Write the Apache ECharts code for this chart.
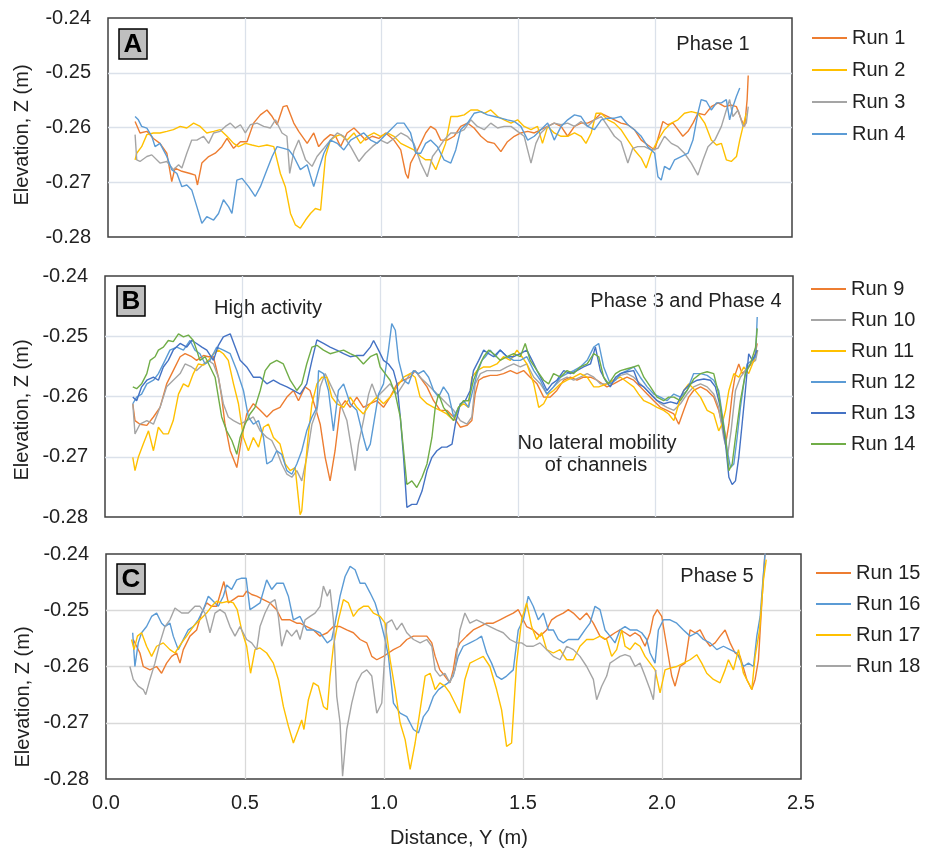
<!DOCTYPE html>
<html>
<head>
<meta charset="utf-8">
<script src="https://cdn.jsdelivr.net/npm/echarts@6/dist/echarts.min.js"></script>
<style>
html,body{margin:0;padding:0;background:#fff}
#chart{width:926px;height:854px}
</style>
</head>
<body>
<div id="chart"></div>
<script>
// axes
var xMin = 0, xMax = 2.5, xStep = 0.5;
var yMin = -0.28, yMax = -0.24, yStep = 0.01;
var xTickDigits = 1, yTickDigits = 2;

// panel A - phase 1  [distance Y (m), elevation Z (m)]
var runNamesA = ['Run 1', 'Run 2', 'Run 3', 'Run 4'];
var run1 = [[0.099,-0.2589],[0.117,-0.2610],[0.142,-0.2607],[0.166,-0.2620],[0.190,-0.2629],[0.215,-0.2647],[0.233,-0.2699],[0.245,-0.2674],[0.270,-0.2680],[0.300,-0.2684],[0.319,-0.2687],[0.327,-0.2705],[0.343,-0.2665],[0.368,-0.2653],[0.392,-0.2647],[0.416,-0.2635],[0.435,-0.2620],[0.459,-0.2638],[0.484,-0.2626],[0.508,-0.2626],[0.532,-0.2592],[0.557,-0.2577],[0.581,-0.2568],[0.600,-0.2580],[0.618,-0.2595],[0.640,-0.2562],[0.654,-0.2560],[0.679,-0.2592],[0.697,-0.2607],[0.728,-0.2629],[0.752,-0.2610],[0.770,-0.2635],[0.789,-0.2623],[0.813,-0.2613],[0.832,-0.2616],[0.850,-0.2635],[0.874,-0.2610],[0.899,-0.2601],[0.917,-0.2610],[0.941,-0.2623],[0.966,-0.2616],[0.990,-0.2620],[1.015,-0.2610],[1.045,-0.2623],[1.070,-0.2641],[1.088,-0.2684],[1.097,-0.2693],[1.106,-0.2665],[1.125,-0.2647],[1.143,-0.2629],[1.161,-0.2610],[1.179,-0.2598],[1.198,-0.2604],[1.216,-0.2623],[1.240,-0.2623],[1.265,-0.2616],[1.289,-0.2598],[1.314,-0.2592],[1.338,-0.2601],[1.363,-0.2616],[1.387,-0.2626],[1.412,-0.2629],[1.436,-0.2644],[1.460,-0.2626],[1.485,-0.2616],[1.509,-0.2610],[1.534,-0.2607],[1.558,-0.2610],[1.582,-0.2604],[1.607,-0.2598],[1.631,-0.2592],[1.656,-0.2598],[1.680,-0.2616],[1.705,-0.2598],[1.729,-0.2592],[1.753,-0.2592],[1.778,-0.2586],[1.802,-0.2574],[1.827,-0.2580],[1.851,-0.2586],[1.875,-0.2592],[1.900,-0.2595],[1.924,-0.2604],[1.949,-0.2623],[1.973,-0.2632],[1.998,-0.2641],[2.016,-0.2610],[2.028,-0.2589],[2.046,-0.2595],[2.065,-0.2592],[2.083,-0.2604],[2.101,-0.2616],[2.120,-0.2607],[2.138,-0.2592],[2.156,-0.2574],[2.181,-0.2577],[2.205,-0.2562],[2.230,-0.2555],[2.254,-0.2562],[2.278,-0.2559],[2.297,-0.2562],[2.315,-0.2586],[2.327,-0.2598],[2.336,-0.2549],[2.340,-0.2505]];
var run2 = [[0.099,-0.2659],[0.105,-0.2647],[0.123,-0.2635],[0.142,-0.2613],[0.166,-0.2610],[0.190,-0.2610],[0.215,-0.2607],[0.239,-0.2604],[0.264,-0.2598],[0.288,-0.2601],[0.313,-0.2592],[0.337,-0.2598],[0.361,-0.2610],[0.386,-0.2607],[0.410,-0.2604],[0.435,-0.2616],[0.459,-0.2629],[0.477,-0.2635],[0.502,-0.2629],[0.526,-0.2632],[0.551,-0.2635],[0.581,-0.2632],[0.606,-0.2635],[0.630,-0.2684],[0.648,-0.2708],[0.667,-0.2757],[0.685,-0.2778],[0.703,-0.2784],[0.722,-0.2769],[0.740,-0.2757],[0.758,-0.2748],[0.777,-0.2751],[0.795,-0.2653],[0.813,-0.2623],[0.832,-0.2616],[0.850,-0.2613],[0.874,-0.2623],[0.899,-0.2610],[0.923,-0.2629],[0.948,-0.2616],[0.972,-0.2610],[0.996,-0.2616],[1.021,-0.2610],[1.045,-0.2616],[1.070,-0.2629],[1.094,-0.2635],[1.118,-0.2641],[1.143,-0.2653],[1.161,-0.2659],[1.179,-0.2659],[1.198,-0.2677],[1.216,-0.2653],[1.234,-0.2629],[1.253,-0.2580],[1.277,-0.2580],[1.302,-0.2577],[1.326,-0.2568],[1.350,-0.2568],[1.375,-0.2574],[1.399,-0.2568],[1.424,-0.2580],[1.448,-0.2586],[1.473,-0.2592],[1.497,-0.2586],[1.521,-0.2598],[1.546,-0.2604],[1.570,-0.2598],[1.588,-0.2629],[1.607,-0.2598],[1.631,-0.2610],[1.656,-0.2616],[1.680,-0.2616],[1.705,-0.2610],[1.729,-0.2616],[1.747,-0.2629],[1.766,-0.2610],[1.784,-0.2574],[1.802,-0.2574],[1.827,-0.2586],[1.851,-0.2592],[1.875,-0.2604],[1.900,-0.2623],[1.924,-0.2641],[1.949,-0.2656],[1.967,-0.2674],[1.985,-0.2647],[2.010,-0.2623],[2.034,-0.2604],[2.059,-0.2592],[2.083,-0.2586],[2.107,-0.2574],[2.132,-0.2571],[2.156,-0.2574],[2.181,-0.2592],[2.205,-0.2623],[2.224,-0.2632],[2.242,-0.2629],[2.260,-0.2659],[2.278,-0.2662],[2.297,-0.2653],[2.309,-0.2623],[2.321,-0.2598],[2.333,-0.2574]];
var run3 = [[0.099,-0.2613],[0.105,-0.2659],[0.117,-0.2662],[0.142,-0.2653],[0.160,-0.2650],[0.190,-0.2665],[0.215,-0.2662],[0.239,-0.2677],[0.258,-0.2668],[0.270,-0.2674],[0.288,-0.2647],[0.306,-0.2623],[0.325,-0.2623],[0.349,-0.2616],[0.368,-0.2629],[0.386,-0.2610],[0.410,-0.2607],[0.429,-0.2598],[0.447,-0.2592],[0.465,-0.2601],[0.484,-0.2595],[0.502,-0.2610],[0.520,-0.2595],[0.545,-0.2592],[0.569,-0.2598],[0.593,-0.2601],[0.612,-0.2586],[0.636,-0.2610],[0.654,-0.2616],[0.664,-0.2684],[0.679,-0.2644],[0.697,-0.2623],[0.722,-0.2659],[0.746,-0.2671],[0.764,-0.2653],[0.789,-0.2638],[0.813,-0.2623],[0.838,-0.2610],[0.862,-0.2616],[0.887,-0.2635],[0.917,-0.2662],[0.941,-0.2647],[0.966,-0.2635],[0.996,-0.2623],[1.021,-0.2629],[1.045,-0.2620],[1.070,-0.2610],[1.094,-0.2616],[1.118,-0.2629],[1.143,-0.2665],[1.167,-0.2690],[1.186,-0.2653],[1.204,-0.2641],[1.228,-0.2623],[1.253,-0.2610],[1.277,-0.2610],[1.302,-0.2604],[1.326,-0.2586],[1.350,-0.2598],[1.375,-0.2604],[1.399,-0.2592],[1.424,-0.2601],[1.448,-0.2598],[1.473,-0.2598],[1.497,-0.2607],[1.521,-0.2616],[1.546,-0.2665],[1.564,-0.2629],[1.582,-0.2610],[1.607,-0.2598],[1.631,-0.2592],[1.656,-0.2595],[1.680,-0.2592],[1.705,-0.2598],[1.729,-0.2589],[1.753,-0.2598],[1.778,-0.2586],[1.803,-0.2580],[1.827,-0.2598],[1.851,-0.2616],[1.875,-0.2626],[1.900,-0.2665],[1.918,-0.2638],[1.936,-0.2635],[1.961,-0.2635],[1.985,-0.2641],[2.010,-0.2638],[2.034,-0.2616],[2.059,-0.2629],[2.083,-0.2635],[2.107,-0.2647],[2.132,-0.2665],[2.156,-0.2687],[2.175,-0.2659],[2.193,-0.2635],[2.218,-0.2623],[2.242,-0.2598],[2.260,-0.2568],[2.272,-0.2549],[2.284,-0.2580],[2.303,-0.2568],[2.321,-0.2598],[2.333,-0.2592],[2.340,-0.2562]];
var run4 = [[0.099,-0.2580],[0.111,-0.2586],[0.123,-0.2598],[0.142,-0.2601],[0.160,-0.2616],[0.172,-0.2635],[0.190,-0.2629],[0.215,-0.2653],[0.233,-0.2677],[0.252,-0.2684],[0.270,-0.2708],[0.288,-0.2705],[0.306,-0.2714],[0.325,-0.2745],[0.343,-0.2775],[0.361,-0.2763],[0.386,-0.2769],[0.404,-0.2757],[0.422,-0.2732],[0.441,-0.2745],[0.453,-0.2757],[0.471,-0.2696],[0.490,-0.2693],[0.514,-0.2708],[0.538,-0.2726],[0.557,-0.2708],[0.581,-0.2677],[0.600,-0.2653],[0.618,-0.2635],[0.642,-0.2638],[0.661,-0.2641],[0.679,-0.2653],[0.703,-0.2677],[0.728,-0.2668],[0.752,-0.2708],[0.770,-0.2677],[0.789,-0.2647],[0.813,-0.2623],[0.838,-0.2629],[0.862,-0.2641],[0.887,-0.2623],[0.911,-0.2616],[0.935,-0.2610],[0.960,-0.2623],[0.984,-0.2629],[1.009,-0.2616],[1.033,-0.2604],[1.057,-0.2592],[1.082,-0.2592],[1.106,-0.2610],[1.125,-0.2647],[1.143,-0.2647],[1.161,-0.2629],[1.179,-0.2623],[1.204,-0.2635],[1.228,-0.2659],[1.253,-0.2665],[1.271,-0.2641],[1.289,-0.2604],[1.314,-0.2592],[1.338,-0.2574],[1.363,-0.2571],[1.387,-0.2577],[1.412,-0.2580],[1.436,-0.2583],[1.460,-0.2586],[1.485,-0.2589],[1.509,-0.2598],[1.534,-0.2623],[1.558,-0.2616],[1.582,-0.2604],[1.607,-0.2592],[1.631,-0.2623],[1.656,-0.2598],[1.680,-0.2586],[1.705,-0.2577],[1.729,-0.2580],[1.753,-0.2598],[1.778,-0.2604],[1.803,-0.2586],[1.827,-0.2583],[1.851,-0.2583],[1.875,-0.2580],[1.900,-0.2595],[1.924,-0.2604],[1.949,-0.2616],[1.973,-0.2635],[1.998,-0.2647],[2.010,-0.2690],[2.022,-0.2696],[2.034,-0.2671],[2.053,-0.2677],[2.071,-0.2659],[2.095,-0.2653],[2.120,-0.2647],[2.138,-0.2623],[2.156,-0.2574],[2.168,-0.2549],[2.187,-0.2552],[2.205,-0.2568],[2.224,-0.2555],[2.242,-0.2555],[2.260,-0.2549],[2.272,-0.2586],[2.284,-0.2562],[2.297,-0.2543],[2.309,-0.2528]];

// panel B - phase 3 and phase 4
var runNamesB = ['Run 9', 'Run 10', 'Run 11', 'Run 12', 'Run 13', 'Run 14'];
var run9 = [[0.101,-0.2612],[0.109,-0.2640],[0.127,-0.2646],[0.152,-0.2648],[0.176,-0.2634],[0.200,-0.2618],[0.224,-0.2579],[0.248,-0.2557],[0.273,-0.2534],[0.291,-0.2529],[0.315,-0.2534],[0.333,-0.2540],[0.358,-0.2532],[0.376,-0.2534],[0.394,-0.2534],[0.412,-0.2568],[0.424,-0.2601],[0.436,-0.2646],[0.455,-0.2690],[0.479,-0.2718],[0.497,-0.2668],[0.515,-0.2629],[0.539,-0.2612],[0.564,-0.2623],[0.588,-0.2634],[0.612,-0.2623],[0.636,-0.2618],[0.661,-0.2601],[0.685,-0.2590],[0.703,-0.2607],[0.727,-0.2584],[0.745,-0.2590],[0.764,-0.2618],[0.782,-0.2646],[0.800,-0.2701],[0.818,-0.2740],[0.836,-0.2690],[0.855,-0.2618],[0.873,-0.2607],[0.891,-0.2618],[0.915,-0.2601],[0.939,-0.2618],[0.964,-0.2612],[0.988,-0.2607],[1.012,-0.2618],[1.036,-0.2601],[1.061,-0.2579],[1.085,-0.2573],[1.109,-0.2568],[1.127,-0.2557],[1.145,-0.2568],[1.170,-0.2584],[1.194,-0.2607],[1.218,-0.2623],[1.242,-0.2623],[1.267,-0.2634],[1.291,-0.2651],[1.315,-0.2648],[1.333,-0.2640],[1.345,-0.2596],[1.358,-0.2573],[1.376,-0.2568],[1.400,-0.2565],[1.424,-0.2565],[1.448,-0.2562],[1.473,-0.2557],[1.497,-0.2562],[1.521,-0.2557],[1.545,-0.2568],[1.570,-0.2579],[1.594,-0.2601],[1.618,-0.2601],[1.642,-0.2590],[1.667,-0.2573],[1.691,-0.2568],[1.715,-0.2573],[1.739,-0.2568],[1.764,-0.2568],[1.788,-0.2573],[1.824,-0.2584],[1.848,-0.2579],[1.873,-0.2573],[1.897,-0.2568],[1.921,-0.2573],[1.945,-0.2584],[1.970,-0.2596],[1.994,-0.2607],[2.018,-0.2618],[2.042,-0.2623],[2.067,-0.2629],[2.085,-0.2646],[2.103,-0.2623],[2.121,-0.2601],[2.139,-0.2590],[2.164,-0.2584],[2.188,-0.2590],[2.212,-0.2601],[2.230,-0.2623],[2.242,-0.2646],[2.255,-0.2679],[2.267,-0.2646],[2.279,-0.2596],[2.291,-0.2562],[2.303,-0.2546],[2.315,-0.2562],[2.327,-0.2557],[2.339,-0.2551],[2.358,-0.2540],[2.370,-0.2512]];
var run10 = [[0.101,-0.2612],[0.109,-0.2662],[0.127,-0.2646],[0.152,-0.2640],[0.176,-0.2646],[0.200,-0.2618],[0.224,-0.2584],[0.248,-0.2573],[0.273,-0.2562],[0.291,-0.2546],[0.315,-0.2551],[0.333,-0.2557],[0.358,-0.2546],[0.376,-0.2540],[0.394,-0.2546],[0.412,-0.2568],[0.430,-0.2612],[0.448,-0.2634],[0.467,-0.2640],[0.491,-0.2646],[0.515,-0.2640],[0.539,-0.2634],[0.564,-0.2657],[0.588,-0.2668],[0.606,-0.2673],[0.624,-0.2690],[0.642,-0.2712],[0.661,-0.2729],[0.679,-0.2734],[0.697,-0.2723],[0.715,-0.2740],[0.733,-0.2701],[0.752,-0.2646],[0.770,-0.2623],[0.782,-0.2584],[0.800,-0.2562],[0.818,-0.2579],[0.836,-0.2596],[0.855,-0.2612],[0.879,-0.2640],[0.897,-0.2690],[0.909,-0.2723],[0.921,-0.2679],[0.939,-0.2640],[0.958,-0.2596],[0.970,-0.2579],[0.988,-0.2601],[1.012,-0.2590],[1.036,-0.2579],[1.061,-0.2596],[1.085,-0.2579],[1.109,-0.2562],[1.127,-0.2557],[1.145,-0.2568],[1.170,-0.2579],[1.194,-0.2590],[1.218,-0.2601],[1.242,-0.2612],[1.267,-0.2623],[1.291,-0.2640],[1.315,-0.2646],[1.333,-0.2634],[1.345,-0.2579],[1.364,-0.2562],[1.388,-0.2557],[1.412,-0.2557],[1.436,-0.2557],[1.461,-0.2551],[1.485,-0.2546],[1.509,-0.2551],[1.533,-0.2546],[1.558,-0.2568],[1.582,-0.2579],[1.606,-0.2596],[1.630,-0.2584],[1.655,-0.2573],[1.679,-0.2568],[1.703,-0.2573],[1.727,-0.2568],[1.752,-0.2562],[1.776,-0.2568],[1.800,-0.2579],[1.824,-0.2579],[1.848,-0.2573],[1.873,-0.2565],[1.897,-0.2562],[1.921,-0.2568],[1.945,-0.2579],[1.970,-0.2590],[1.994,-0.2601],[2.018,-0.2612],[2.042,-0.2618],[2.067,-0.2623],[2.091,-0.2612],[2.115,-0.2596],[2.139,-0.2584],[2.164,-0.2579],[2.188,-0.2584],[2.212,-0.2596],[2.230,-0.2618],[2.248,-0.2668],[2.263,-0.2696],[2.275,-0.2657],[2.291,-0.2590],[2.309,-0.2568],[2.327,-0.2557],[2.345,-0.2546],[2.364,-0.2540],[2.372,-0.2523]];
var run11 = [[0.101,-0.2701],[0.109,-0.2723],[0.121,-0.2701],[0.139,-0.2679],[0.158,-0.2657],[0.176,-0.2690],[0.194,-0.2651],[0.212,-0.2662],[0.230,-0.2662],[0.248,-0.2640],[0.267,-0.2596],[0.285,-0.2579],[0.303,-0.2584],[0.321,-0.2562],[0.339,-0.2546],[0.358,-0.2548],[0.376,-0.2540],[0.394,-0.2529],[0.412,-0.2523],[0.430,-0.2529],[0.448,-0.2540],[0.467,-0.2579],[0.485,-0.2612],[0.503,-0.2668],[0.521,-0.2690],[0.539,-0.2668],[0.558,-0.2684],[0.576,-0.2651],[0.594,-0.2646],[0.612,-0.2668],[0.636,-0.2679],[0.655,-0.2712],[0.673,-0.2723],[0.691,-0.2718],[0.709,-0.2796],[0.715,-0.2790],[0.727,-0.2723],[0.739,-0.2662],[0.752,-0.2612],[0.770,-0.2579],[0.788,-0.2568],[0.806,-0.2568],[0.824,-0.2601],[0.842,-0.2612],[0.867,-0.2618],[0.891,-0.2601],[0.915,-0.2618],[0.939,-0.2629],[0.964,-0.2612],[0.988,-0.2601],[1.012,-0.2612],[1.036,-0.2601],[1.061,-0.2584],[1.085,-0.2568],[1.109,-0.2562],[1.127,-0.2568],[1.145,-0.2601],[1.170,-0.2612],[1.194,-0.2618],[1.218,-0.2623],[1.242,-0.2629],[1.267,-0.2640],[1.285,-0.2618],[1.303,-0.2612],[1.321,-0.2618],[1.333,-0.2568],[1.352,-0.2557],[1.376,-0.2551],[1.400,-0.2551],[1.424,-0.2546],[1.448,-0.2534],[1.473,-0.2540],[1.497,-0.2523],[1.515,-0.2534],[1.533,-0.2546],[1.558,-0.2579],[1.576,-0.2618],[1.594,-0.2612],[1.612,-0.2596],[1.630,-0.2590],[1.655,-0.2579],[1.679,-0.2573],[1.703,-0.2568],[1.727,-0.2562],[1.752,-0.2568],[1.776,-0.2584],[1.794,-0.2584],[1.824,-0.2579],[1.848,-0.2573],[1.873,-0.2568],[1.897,-0.2576],[1.921,-0.2584],[1.939,-0.2596],[1.958,-0.2607],[1.982,-0.2612],[2.006,-0.2618],[2.030,-0.2623],[2.048,-0.2629],[2.067,-0.2640],[2.085,-0.2612],[2.103,-0.2590],[2.121,-0.2579],[2.139,-0.2587],[2.164,-0.2601],[2.188,-0.2623],[2.212,-0.2629],[2.230,-0.2657],[2.242,-0.2646],[2.255,-0.2623],[2.267,-0.2590],[2.285,-0.2562],[2.303,-0.2568],[2.321,-0.2551],[2.339,-0.2562],[2.358,-0.2540],[2.370,-0.2523]];
var run12 = [[0.101,-0.2612],[0.115,-0.2601],[0.133,-0.2596],[0.152,-0.2579],[0.176,-0.2573],[0.194,-0.2562],[0.218,-0.2540],[0.236,-0.2523],[0.261,-0.2518],[0.285,-0.2523],[0.309,-0.2507],[0.327,-0.2523],[0.345,-0.2529],[0.364,-0.2546],[0.382,-0.2540],[0.406,-0.2518],[0.430,-0.2523],[0.455,-0.2529],[0.479,-0.2557],[0.503,-0.2590],[0.521,-0.2634],[0.539,-0.2646],[0.558,-0.2640],[0.576,-0.2668],[0.588,-0.2712],[0.606,-0.2707],[0.624,-0.2690],[0.642,-0.2696],[0.661,-0.2723],[0.679,-0.2729],[0.697,-0.2712],[0.715,-0.2690],[0.733,-0.2657],[0.752,-0.2634],[0.770,-0.2618],[0.776,-0.2557],[0.794,-0.2562],[0.812,-0.2590],[0.830,-0.2657],[0.848,-0.2590],[0.867,-0.2579],[0.891,-0.2612],[0.915,-0.2623],[0.939,-0.2668],[0.952,-0.2690],[0.964,-0.2679],[0.976,-0.2646],[0.994,-0.2596],[1.012,-0.2579],[1.030,-0.2523],[1.042,-0.2479],[1.055,-0.2490],[1.067,-0.2540],[1.085,-0.2573],[1.103,-0.2579],[1.121,-0.2557],[1.139,-0.2562],[1.158,-0.2557],[1.176,-0.2568],[1.194,-0.2590],[1.212,-0.2601],[1.230,-0.2584],[1.248,-0.2596],[1.267,-0.2634],[1.285,-0.2618],[1.303,-0.2607],[1.321,-0.2618],[1.333,-0.2596],[1.352,-0.2562],[1.370,-0.2540],[1.382,-0.2534],[1.400,-0.2523],[1.418,-0.2534],[1.436,-0.2523],[1.461,-0.2534],[1.485,-0.2540],[1.509,-0.2540],[1.533,-0.2534],[1.558,-0.2557],[1.582,-0.2573],[1.606,-0.2596],[1.630,-0.2584],[1.655,-0.2568],[1.679,-0.2562],[1.703,-0.2557],[1.727,-0.2551],[1.752,-0.2540],[1.776,-0.2518],[1.794,-0.2512],[1.812,-0.2551],[1.836,-0.2579],[1.855,-0.2573],[1.873,-0.2562],[1.897,-0.2557],[1.921,-0.2551],[1.945,-0.2568],[1.970,-0.2584],[1.994,-0.2596],[2.018,-0.2601],[2.042,-0.2607],[2.067,-0.2596],[2.091,-0.2601],[2.115,-0.2590],[2.139,-0.2562],[2.164,-0.2562],[2.188,-0.2565],[2.212,-0.2573],[2.230,-0.2590],[2.248,-0.2646],[2.261,-0.2690],[2.273,-0.2718],[2.285,-0.2712],[2.297,-0.2668],[2.309,-0.2618],[2.321,-0.2579],[2.333,-0.2546],[2.352,-0.2540],[2.364,-0.2534],[2.370,-0.2468]];
var run13 = [[0.101,-0.2601],[0.115,-0.2607],[0.133,-0.2584],[0.152,-0.2573],[0.176,-0.2568],[0.194,-0.2573],[0.212,-0.2551],[0.230,-0.2540],[0.248,-0.2523],[0.273,-0.2512],[0.297,-0.2518],[0.315,-0.2507],[0.333,-0.2512],[0.352,-0.2518],[0.370,-0.2523],[0.394,-0.2540],[0.412,-0.2515],[0.430,-0.2501],[0.455,-0.2496],[0.473,-0.2518],[0.491,-0.2540],[0.515,-0.2551],[0.539,-0.2568],[0.564,-0.2568],[0.588,-0.2579],[0.612,-0.2573],[0.636,-0.2579],[0.661,-0.2584],[0.685,-0.2590],[0.709,-0.2596],[0.733,-0.2579],[0.752,-0.2540],[0.770,-0.2506],[0.794,-0.2512],[0.818,-0.2518],[0.842,-0.2523],[0.867,-0.2529],[0.891,-0.2534],[0.915,-0.2532],[0.939,-0.2532],[0.964,-0.2518],[0.976,-0.2507],[0.994,-0.2523],[1.012,-0.2540],[1.030,-0.2546],[1.048,-0.2557],[1.061,-0.2579],[1.073,-0.2634],[1.085,-0.2701],[1.097,-0.2784],[1.115,-0.2779],[1.133,-0.2779],[1.152,-0.2757],[1.170,-0.2723],[1.188,-0.2701],[1.206,-0.2690],[1.224,-0.2684],[1.242,-0.2684],[1.261,-0.2679],[1.273,-0.2646],[1.291,-0.2612],[1.309,-0.2607],[1.327,-0.2590],[1.339,-0.2557],[1.358,-0.2540],[1.376,-0.2523],[1.394,-0.2529],[1.412,-0.2534],[1.436,-0.2523],[1.461,-0.2534],[1.485,-0.2534],[1.509,-0.2529],[1.533,-0.2523],[1.552,-0.2540],[1.570,-0.2557],[1.588,-0.2573],[1.606,-0.2590],[1.624,-0.2579],[1.642,-0.2573],[1.667,-0.2557],[1.691,-0.2562],[1.715,-0.2557],[1.739,-0.2551],[1.764,-0.2546],[1.782,-0.2518],[1.800,-0.2557],[1.818,-0.2573],[1.836,-0.2584],[1.855,-0.2568],[1.873,-0.2562],[1.897,-0.2559],[1.921,-0.2557],[1.939,-0.2579],[1.958,-0.2584],[1.982,-0.2596],[2.006,-0.2607],[2.030,-0.2612],[2.055,-0.2609],[2.079,-0.2612],[2.103,-0.2590],[2.127,-0.2579],[2.152,-0.2573],[2.176,-0.2571],[2.200,-0.2573],[2.218,-0.2584],[2.236,-0.2618],[2.255,-0.2679],[2.267,-0.2734],[2.279,-0.2746],[2.291,-0.2740],[2.303,-0.2701],[2.315,-0.2646],[2.327,-0.2590],[2.339,-0.2529],[2.352,-0.2540],[2.364,-0.2529],[2.370,-0.2523]];
var run14 = [[0.101,-0.2584],[0.115,-0.2587],[0.133,-0.2579],[0.152,-0.2562],[0.164,-0.2540],[0.182,-0.2534],[0.194,-0.2523],[0.212,-0.2518],[0.230,-0.2507],[0.248,-0.2509],[0.267,-0.2496],[0.285,-0.2501],[0.303,-0.2498],[0.321,-0.2507],[0.333,-0.2523],[0.345,-0.2540],[0.364,-0.2534],[0.382,-0.2551],[0.400,-0.2568],[0.412,-0.2601],[0.424,-0.2634],[0.442,-0.2657],[0.461,-0.2673],[0.479,-0.2696],[0.491,-0.2668],[0.509,-0.2646],[0.527,-0.2629],[0.545,-0.2618],[0.564,-0.2590],[0.582,-0.2557],[0.600,-0.2546],[0.624,-0.2540],[0.648,-0.2546],[0.673,-0.2573],[0.697,-0.2590],[0.715,-0.2579],[0.733,-0.2546],[0.752,-0.2518],[0.770,-0.2515],[0.794,-0.2523],[0.818,-0.2529],[0.842,-0.2526],[0.867,-0.2523],[0.891,-0.2529],[0.915,-0.2534],[0.939,-0.2546],[0.964,-0.2534],[0.988,-0.2529],[1.000,-0.2551],[1.018,-0.2562],[1.036,-0.2573],[1.055,-0.2596],[1.073,-0.2634],[1.085,-0.2690],[1.097,-0.2746],[1.115,-0.2740],[1.133,-0.2751],[1.152,-0.2734],[1.170,-0.2712],[1.188,-0.2668],[1.200,-0.2618],[1.212,-0.2596],[1.230,-0.2618],[1.248,-0.2629],[1.267,-0.2640],[1.285,-0.2618],[1.303,-0.2607],[1.321,-0.2607],[1.339,-0.2573],[1.358,-0.2551],[1.376,-0.2534],[1.394,-0.2523],[1.412,-0.2529],[1.436,-0.2540],[1.461,-0.2534],[1.485,-0.2529],[1.509,-0.2534],[1.527,-0.2512],[1.545,-0.2540],[1.570,-0.2557],[1.594,-0.2573],[1.612,-0.2579],[1.630,-0.2562],[1.655,-0.2568],[1.679,-0.2557],[1.703,-0.2562],[1.727,-0.2551],[1.752,-0.2546],[1.776,-0.2529],[1.794,-0.2534],[1.812,-0.2568],[1.830,-0.2579],[1.855,-0.2562],[1.873,-0.2557],[1.897,-0.2554],[1.921,-0.2551],[1.939,-0.2548],[1.958,-0.2568],[1.982,-0.2584],[2.006,-0.2601],[2.030,-0.2607],[2.048,-0.2601],[2.067,-0.2601],[2.091,-0.2607],[2.115,-0.2590],[2.139,-0.2571],[2.164,-0.2562],[2.188,-0.2559],[2.212,-0.2562],[2.230,-0.2596],[2.242,-0.2634],[2.255,-0.2668],[2.267,-0.2723],[2.279,-0.2712],[2.291,-0.2668],[2.309,-0.2607],[2.327,-0.2562],[2.345,-0.2546],[2.364,-0.2518],[2.370,-0.2487]];

// panel C - phase 5
var runNamesC = ['Run 15', 'Run 16', 'Run 17', 'Run 18'];
var run15 = [[0.098,-0.2552],[0.110,-0.2564],[0.122,-0.2576],[0.134,-0.2600],[0.158,-0.2606],[0.182,-0.2600],[0.200,-0.2612],[0.218,-0.2594],[0.236,-0.2582],[0.254,-0.2576],[0.266,-0.2594],[0.278,-0.2570],[0.302,-0.2546],[0.326,-0.2535],[0.344,-0.2505],[0.362,-0.2487],[0.380,-0.2493],[0.398,-0.2493],[0.412,-0.2469],[0.424,-0.2449],[0.440,-0.2487],[0.458,-0.2481],[0.476,-0.2475],[0.494,-0.2475],[0.506,-0.2466],[0.524,-0.2472],[0.542,-0.2475],[0.566,-0.2481],[0.590,-0.2487],[0.614,-0.2499],[0.632,-0.2517],[0.662,-0.2517],[0.686,-0.2523],[0.698,-0.2523],[0.722,-0.2529],[0.746,-0.2535],[0.770,-0.2546],[0.796,-0.2540],[0.818,-0.2529],[0.842,-0.2529],[0.866,-0.2535],[0.890,-0.2540],[0.914,-0.2552],[0.938,-0.2558],[0.956,-0.2582],[0.974,-0.2588],[0.998,-0.2582],[1.016,-0.2576],[1.034,-0.2570],[1.058,-0.2564],[1.082,-0.2552],[1.106,-0.2546],[1.130,-0.2546],[1.154,-0.2546],[1.172,-0.2558],[1.184,-0.2582],[1.201,-0.2606],[1.219,-0.2617],[1.237,-0.2629],[1.249,-0.2606],[1.261,-0.2570],[1.273,-0.2558],[1.297,-0.2546],[1.321,-0.2535],[1.345,-0.2529],[1.369,-0.2523],[1.393,-0.2523],[1.417,-0.2517],[1.441,-0.2511],[1.465,-0.2505],[1.483,-0.2499],[1.495,-0.2511],[1.513,-0.2529],[1.537,-0.2535],[1.561,-0.2546],[1.585,-0.2535],[1.603,-0.2517],[1.621,-0.2511],[1.645,-0.2505],[1.663,-0.2499],[1.681,-0.2505],[1.705,-0.2517],[1.729,-0.2505],[1.753,-0.2523],[1.777,-0.2546],[1.795,-0.2552],[1.813,-0.2546],[1.831,-0.2540],[1.849,-0.2535],[1.867,-0.2540],[1.885,-0.2546],[1.903,-0.2540],[1.921,-0.2546],[1.939,-0.2564],[1.957,-0.2540],[1.969,-0.2511],[1.983,-0.2499],[1.999,-0.2511],[2.017,-0.2564],[2.035,-0.2617],[2.047,-0.2635],[2.065,-0.2600],[2.083,-0.2594],[2.101,-0.2535],[2.119,-0.2540],[2.137,-0.2535],[2.155,-0.2552],[2.173,-0.2564],[2.191,-0.2558],[2.209,-0.2546],[2.227,-0.2535],[2.245,-0.2558],[2.263,-0.2576],[2.281,-0.2582],[2.305,-0.2623],[2.323,-0.2641],[2.335,-0.2623],[2.347,-0.2588],[2.359,-0.2487],[2.371,-0.2392]];
var run16 = [[0.096,-0.2540],[0.104,-0.2600],[0.116,-0.2558],[0.128,-0.2540],[0.146,-0.2529],[0.164,-0.2511],[0.182,-0.2505],[0.200,-0.2523],[0.212,-0.2529],[0.230,-0.2523],[0.242,-0.2546],[0.260,-0.2570],[0.278,-0.2552],[0.296,-0.2535],[0.314,-0.2529],[0.332,-0.2517],[0.350,-0.2499],[0.368,-0.2475],[0.386,-0.2484],[0.404,-0.2493],[0.422,-0.2475],[0.434,-0.2455],[0.452,-0.2463],[0.470,-0.2446],[0.488,-0.2443],[0.504,-0.2443],[0.518,-0.2499],[0.536,-0.2493],[0.554,-0.2487],[0.578,-0.2446],[0.596,-0.2463],[0.614,-0.2452],[0.638,-0.2452],[0.656,-0.2475],[0.674,-0.2517],[0.698,-0.2511],[0.722,-0.2535],[0.746,-0.2535],[0.770,-0.2540],[0.796,-0.2558],[0.812,-0.2552],[0.824,-0.2523],[0.842,-0.2475],[0.860,-0.2440],[0.878,-0.2422],[0.896,-0.2428],[0.914,-0.2452],[0.932,-0.2452],[0.950,-0.2469],[0.968,-0.2487],[0.986,-0.2517],[1.004,-0.2552],[1.016,-0.2582],[1.034,-0.2665],[1.058,-0.2683],[1.082,-0.2689],[1.106,-0.2712],[1.124,-0.2718],[1.142,-0.2689],[1.160,-0.2677],[1.178,-0.2653],[1.196,-0.2641],[1.213,-0.2635],[1.231,-0.2629],[1.249,-0.2617],[1.267,-0.2582],[1.285,-0.2564],[1.309,-0.2558],[1.333,-0.2552],[1.351,-0.2546],[1.369,-0.2576],[1.387,-0.2594],[1.405,-0.2617],[1.423,-0.2623],[1.441,-0.2617],[1.465,-0.2606],[1.483,-0.2535],[1.501,-0.2517],[1.519,-0.2475],[1.537,-0.2493],[1.555,-0.2517],[1.573,-0.2505],[1.591,-0.2535],[1.609,-0.2535],[1.627,-0.2552],[1.645,-0.2558],[1.663,-0.2552],[1.681,-0.2552],[1.699,-0.2552],[1.723,-0.2535],[1.741,-0.2523],[1.759,-0.2493],[1.777,-0.2499],[1.795,-0.2535],[1.813,-0.2546],[1.831,-0.2558],[1.849,-0.2535],[1.867,-0.2529],[1.885,-0.2535],[1.909,-0.2535],[1.927,-0.2540],[1.945,-0.2552],[1.957,-0.2576],[1.975,-0.2594],[1.987,-0.2535],[2.005,-0.2517],[2.029,-0.2517],[2.053,-0.2523],[2.077,-0.2535],[2.101,-0.2546],[2.125,-0.2540],[2.149,-0.2552],[2.173,-0.2558],[2.197,-0.2570],[2.221,-0.2564],[2.245,-0.2570],[2.269,-0.2576],[2.293,-0.2600],[2.311,-0.2594],[2.329,-0.2600],[2.341,-0.2546],[2.353,-0.2511],[2.365,-0.2434],[2.371,-0.2398]];
var run17 = [[0.092,-0.2552],[0.101,-0.2570],[0.113,-0.2546],[0.128,-0.2540],[0.146,-0.2564],[0.164,-0.2582],[0.182,-0.2564],[0.206,-0.2558],[0.230,-0.2570],[0.248,-0.2576],[0.272,-0.2558],[0.290,-0.2546],[0.314,-0.2529],[0.338,-0.2517],[0.362,-0.2505],[0.380,-0.2493],[0.398,-0.2484],[0.416,-0.2487],[0.440,-0.2484],[0.458,-0.2487],[0.472,-0.2499],[0.488,-0.2535],[0.506,-0.2564],[0.520,-0.2612],[0.536,-0.2570],[0.554,-0.2567],[0.578,-0.2576],[0.602,-0.2594],[0.620,-0.2623],[0.638,-0.2671],[0.656,-0.2706],[0.674,-0.2736],[0.692,-0.2712],[0.704,-0.2695],[0.712,-0.2712],[0.728,-0.2659],[0.746,-0.2629],[0.764,-0.2635],[0.782,-0.2671],[0.796,-0.2677],[0.806,-0.2617],[0.818,-0.2564],[0.836,-0.2517],[0.854,-0.2481],[0.872,-0.2487],[0.890,-0.2511],[0.908,-0.2499],[0.926,-0.2493],[0.944,-0.2493],[0.962,-0.2505],[0.986,-0.2511],[1.004,-0.2523],[1.022,-0.2588],[1.040,-0.2641],[1.058,-0.2700],[1.076,-0.2730],[1.094,-0.2783],[1.112,-0.2736],[1.130,-0.2677],[1.148,-0.2617],[1.166,-0.2612],[1.184,-0.2641],[1.201,-0.2629],[1.219,-0.2635],[1.237,-0.2647],[1.255,-0.2665],[1.273,-0.2683],[1.291,-0.2623],[1.309,-0.2594],[1.333,-0.2588],[1.357,-0.2582],[1.381,-0.2600],[1.405,-0.2641],[1.423,-0.2677],[1.441,-0.2742],[1.459,-0.2736],[1.477,-0.2594],[1.495,-0.2517],[1.513,-0.2487],[1.531,-0.2529],[1.549,-0.2552],[1.567,-0.2540],[1.585,-0.2570],[1.609,-0.2576],[1.633,-0.2570],[1.657,-0.2588],[1.681,-0.2588],[1.705,-0.2564],[1.729,-0.2552],[1.753,-0.2552],[1.777,-0.2546],[1.801,-0.2552],[1.819,-0.2582],[1.837,-0.2570],[1.855,-0.2535],[1.867,-0.2564],[1.885,-0.2570],[1.903,-0.2558],[1.921,-0.2564],[1.939,-0.2582],[1.957,-0.2594],[1.975,-0.2606],[1.993,-0.2647],[2.011,-0.2606],[2.029,-0.2603],[2.053,-0.2600],[2.077,-0.2594],[2.101,-0.2588],[2.125,-0.2579],[2.143,-0.2594],[2.161,-0.2612],[2.185,-0.2623],[2.209,-0.2629],[2.227,-0.2606],[2.239,-0.2588],[2.257,-0.2606],[2.275,-0.2570],[2.293,-0.2612],[2.311,-0.2629],[2.323,-0.2641],[2.335,-0.2582],[2.351,-0.2535],[2.365,-0.2446],[2.375,-0.2410]];
var run18 = [[0.086,-0.2600],[0.098,-0.2623],[0.116,-0.2635],[0.134,-0.2641],[0.143,-0.2650],[0.158,-0.2623],[0.176,-0.2594],[0.194,-0.2558],[0.212,-0.2529],[0.230,-0.2517],[0.248,-0.2496],[0.272,-0.2505],[0.296,-0.2505],[0.320,-0.2493],[0.338,-0.2493],[0.356,-0.2505],[0.374,-0.2540],[0.392,-0.2505],[0.410,-0.2499],[0.428,-0.2505],[0.446,-0.2529],[0.464,-0.2546],[0.482,-0.2529],[0.506,-0.2552],[0.524,-0.2558],[0.542,-0.2570],[0.554,-0.2529],[0.572,-0.2505],[0.590,-0.2487],[0.608,-0.2481],[0.620,-0.2511],[0.632,-0.2564],[0.650,-0.2535],[0.668,-0.2546],[0.686,-0.2535],[0.698,-0.2552],[0.716,-0.2517],[0.734,-0.2511],[0.752,-0.2505],[0.770,-0.2493],[0.782,-0.2457],[0.796,-0.2475],[0.806,-0.2463],[0.818,-0.2517],[0.830,-0.2653],[0.842,-0.2700],[0.851,-0.2795],[0.866,-0.2712],[0.884,-0.2665],[0.902,-0.2629],[0.920,-0.2612],[0.938,-0.2606],[0.956,-0.2617],[0.974,-0.2683],[0.992,-0.2665],[1.010,-0.2523],[1.028,-0.2517],[1.046,-0.2535],[1.064,-0.2523],[1.082,-0.2540],[1.106,-0.2552],[1.130,-0.2558],[1.154,-0.2552],[1.172,-0.2564],[1.184,-0.2606],[1.201,-0.2617],[1.219,-0.2612],[1.237,-0.2629],[1.255,-0.2606],[1.273,-0.2535],[1.291,-0.2505],[1.309,-0.2523],[1.333,-0.2517],[1.357,-0.2523],[1.381,-0.2529],[1.405,-0.2535],[1.429,-0.2540],[1.453,-0.2552],[1.477,-0.2558],[1.495,-0.2558],[1.513,-0.2564],[1.537,-0.2564],[1.561,-0.2558],[1.585,-0.2570],[1.609,-0.2582],[1.633,-0.2588],[1.657,-0.2564],[1.681,-0.2570],[1.705,-0.2582],[1.729,-0.2600],[1.753,-0.2623],[1.765,-0.2659],[1.783,-0.2635],[1.801,-0.2617],[1.813,-0.2594],[1.831,-0.2588],[1.849,-0.2582],[1.867,-0.2579],[1.885,-0.2582],[1.903,-0.2600],[1.921,-0.2594],[1.939,-0.2617],[1.957,-0.2641],[1.969,-0.2659],[1.978,-0.2606]];

// excel-ish palette
var orange = '#ED7D31', gold = '#FFC000', gray = '#A5A5A5', blue = '#5B9BD5', navy = '#4472C4', green = '#70AD47';

var FONT = 'Liberation Sans, Arial, sans-serif';
var TXT = '#222222';

var myChart = echarts.init(document.getElementById('chart'));

function makeX(gi, showLabels, gridColor) {
    return {
        type: 'value', gridIndex: gi, min: xMin, max: xMax, interval: xStep,
        axisLine: {show: false}, axisTick: {show: false},
        axisLabel: {show: showLabels, fontSize: 20, fontFamily: FONT, color: TXT, margin: 14,
            formatter: function (v) { return v.toFixed(xTickDigits); }},
        splitLine: {show: true, showMinLine: false, showMaxLine: false, lineStyle: {color: gridColor, width: 1.3}}
    };
}
function makeY(gi, gridColor) {
    return {
        type: 'value', gridIndex: gi, min: yMin, max: yMax, interval: yStep,
        axisLine: {show: false}, axisTick: {show: false},
        axisLabel: {fontSize: 20, fontFamily: FONT, color: TXT, margin: 17,
            formatter: function (v) { return v.toFixed(yTickDigits); }},
        splitLine: {show: true, showMinLine: false, showMaxLine: false, lineStyle: {color: gridColor, width: 1.3}}
    };
}
function makeLine(name, data, color, gi) {
    return {
        type: 'line', name: name, data: data, xAxisIndex: gi, yAxisIndex: gi,
        symbol: 'none', lineStyle: {width: 1.4, color: color}, itemStyle: {color: color},
        animation: false
    };
}
function makeLegend(names, left, top, gap) {
    return {
        data: names, orient: 'vertical', left: left, top: top, padding: 0,
        icon: 'rect', itemWidth: 35, itemHeight: 2, itemGap: gap,
        textStyle: {fontSize: 20, fontFamily: FONT, color: TXT, lineHeight: 20}
    };
}
function letterBox(letter, x, y) {
    return [
        {type: 'rect', shape: {x: x, y: y, width: 28, height: 30},
            style: {fill: '#bfbfbf', stroke: '#000', lineWidth: 1.5}},
        {type: 'text', x: x + 14, y: y + 16,
            style: {text: letter, fontSize: 26, fontWeight: 'bold', fontFamily: FONT, fill: '#000',
                textAlign: 'center', textVerticalAlign: 'middle'}}
    ];
}
function note(text, x, y) {
    return {type: 'text', x: x, y: y,
        style: {text: text, fontSize: 20, fontFamily: FONT, fill: TXT, textAlign: 'center', textVerticalAlign: 'middle'}};
}
function yTitle(x, y) {
    return {type: 'text', x: x, y: y, rotation: Math.PI / 2,
        style: {text: 'Elevation, Z (m)', fontSize: 20, fontFamily: FONT, fill: TXT, textAlign: 'center', textVerticalAlign: 'middle'}};
}

var gridAB = '#dbe1ea', gridC = '#d9d9d9';

var option = {
    backgroundColor: '#fff',
    animation: false,
    grid: [
        {left: 108, top: 18, width: 684, height: 219, show: true, borderColor: '#404040', borderWidth: 1.5, backgroundColor: 'transparent'},
        {left: 105, top: 276, width: 688, height: 241, show: true, borderColor: '#404040', borderWidth: 1.5, backgroundColor: 'transparent'},
        {left: 106, top: 554, width: 695, height: 225, show: true, borderColor: '#404040', borderWidth: 1.5, backgroundColor: 'transparent'}
    ],
    xAxis: [makeX(0, false, gridAB), makeX(1, false, gridAB), makeX(2, true, gridC)],
    yAxis: [makeY(0, gridAB), makeY(1, gridAB), makeY(2, gridC)],
    legend: [
        makeLegend(runNamesA, 812, 28, 12),
        makeLegend(runNamesB, 811, 279, 11),
        makeLegend(runNamesC, 816, 563, 11)
    ],
    series: [
        makeLine(runNamesA[0], run1, orange, 0),
        makeLine(runNamesA[1], run2, gold, 0),
        makeLine(runNamesA[2], run3, gray, 0),
        makeLine(runNamesA[3], run4, blue, 0),
        makeLine(runNamesB[0], run9, orange, 1),
        makeLine(runNamesB[1], run10, gray, 1),
        makeLine(runNamesB[2], run11, gold, 1),
        makeLine(runNamesB[3], run12, blue, 1),
        makeLine(runNamesB[4], run13, navy, 1),
        makeLine(runNamesB[5], run14, green, 1),
        makeLine(runNamesC[0], run15, orange, 2),
        makeLine(runNamesC[1], run16, blue, 2),
        makeLine(runNamesC[2], run17, gold, 2),
        makeLine(runNamesC[3], run18, gray, 2)
    ],
    graphic: [].concat(
        letterBox('A', 119, 29),
        letterBox('B', 117, 286),
        letterBox('C', 117, 564),
        [
            note('Phase 1', 713, 44),
            note('High activity', 268, 308),
            note('Phase 3 and Phase 4', 686, 301),
            note('No lateral mobility', 597, 443),
            note('of channels', 596, 465),
            note('Phase 5', 717, 576),
            yTitle(22, 135),
            yTitle(22, 410),
            yTitle(23, 697),
            {type: 'text', x: 459, y: 838,
                style: {text: 'Distance, Y (m)', fontSize: 20, fontFamily: FONT, fill: TXT, textAlign: 'center', textVerticalAlign: 'middle'}}
        ]
    )
};
myChart.setOption(option);
</script>
</body>
</html>
